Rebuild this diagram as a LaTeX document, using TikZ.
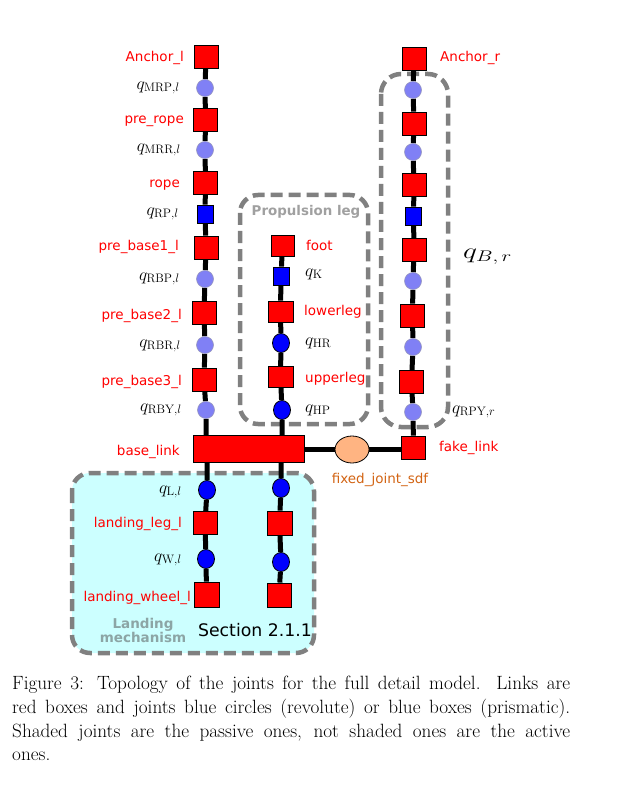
\RequirePackage{fix-cm}
\documentclass[tikz,border=0pt]{standalone}
\usepackage{fontspec}
\newfontfamily\dejavu{DejaVu Sans}
\usetikzlibrary{shapes.geometric,backgrounds}
\definecolor{jlight}{RGB}{128,128,245}
\definecolor{jlightb}{RGB}{150,150,190}
\definecolor{dashgray}{RGB}{128,128,128}
\definecolor{cyanbg}{RGB}{204,255,255}
\definecolor{sdforange}{RGB}{210,100,20}
\definecolor{sdffill}{RGB}{255,180,130}
\definecolor{titlegray}{RGB}{160,160,160}
\definecolor{landgray}{RGB}{140,165,165}
\tikzset{
  linkbox/.style={rectangle, fill=red, draw=black, line width=0.8pt, minimum width=24pt, minimum height=23pt, inner sep=0pt},
  pjoint/.style={circle, fill=jlight, draw=jlightb, line width=0.6pt, minimum size=17pt, inner sep=0pt},
  ajoint/.style={ellipse, fill=blue, draw=black, line width=0.8pt, minimum width=17pt, minimum height=19pt, inner sep=0pt},
  prism/.style={rectangle, fill=blue, draw=black, line width=0.8pt, minimum width=16pt, minimum height=18pt, inner sep=0pt},
  rlab/.style={text=red, font=\dejavu\fontsize{13.5}{16}\selectfont, inner sep=0pt, text height=10pt, text depth=0pt},
  mlab/.style={font=\fontsize{17.5}{20}\selectfont, inner sep=0pt},
  chain/.style={line width=5pt, black},
  groupbox/.style={draw=dashgray, line width=4.5pt, dash pattern=on 12pt off 6pt, rounded corners=18pt},
}
\begin{document}
\begin{tikzpicture}[x=1pt,y=-1pt]
\useasboundingbox (0,0) rectangle (620,786);
% ---------- left chain ----------
\node[linkbox] (anl) at (206,56.5) {};
\node[pjoint]  (qmrp) at (205,88) {};
\node[linkbox] (prerope) at (205.5,120) {};
\node[pjoint]  (qmrr) at (205,150) {};
\node[linkbox] (rope) at (205.5,183) {};
\node[prism]   (qrp) at (205,214) {};
\node[linkbox] (pb1) at (206,247.5) {};
\node[pjoint]  (qrbp) at (205,279) {};
\node[linkbox] (pb2) at (204,313) {};
\node[pjoint]  (qrbr) at (205,345) {};
\node[linkbox] (pb3) at (204,379.5) {};
\node[pjoint]  (qrby) at (206,410) {};
\node[linkbox, minimum width=111pt, minimum height=27pt] (base) at (248.5,448.5) {};
% labels left
\node[rlab, anchor=east] (lanl) at (184,57) {Anchor\_l};
\node[mlab, anchor=east] (lqmrp) at (180,88) {$q_{\mathrm{MRP},l}$};
\node[rlab, anchor=east] (lprerope) at (184,119) {pre\_rope};
\node[mlab, anchor=east] (lqmrr) at (181,150) {$q_{\mathrm{MRR},l}$};
\node[rlab, anchor=east] (lrope) at (180,183) {rope};
\node[mlab, anchor=east] (lqrp) at (179,214) {$q_{\mathrm{RP},l}$};
\node[rlab, anchor=east] (lpb1) at (179,246) {pre\_base1\_l};
\node[mlab, anchor=east] (lqrbp) at (180,279) {$q_{\mathrm{RBP},l}$};
\node[rlab, anchor=east] (lpb2) at (182,314) {pre\_base2\_l};
\node[mlab, anchor=east] (lqrbr) at (181,346) {$q_{\mathrm{RBR},l}$};
\node[rlab, anchor=east] (lpb3) at (182,380) {pre\_base3\_l};
\node[mlab, anchor=east] (lqrby) at (182,410) {$q_{\mathrm{RBY},l}$};
\node[rlab, anchor=east] (lbase) at (180,450) {base\_link};
% ---------- propulsion leg ----------
\node[linkbox, minimum width=23pt, minimum height=21pt] (foot) at (282.5,245.5) {};
\node[prism]   (qk) at (281,276) {};
\node[linkbox, minimum width=25pt, minimum height=21pt] (lower) at (280.5,311.5) {};
\node[ajoint]  (qhr) at (281,343) {};
\node[linkbox, minimum width=25pt, minimum height=21pt] (upper) at (280.5,377) {};
\node[ajoint]  (qhp) at (282,410) {};
\node[rlab, anchor=west] (lfoot) at (306,245) {foot};
\node[mlab, anchor=west] (lqk) at (305,274) {$q_{\mathrm{K}}$};
\node[rlab, anchor=west] (llower) at (304,310) {lowerleg};
\node[mlab, anchor=west] (lqhr) at (305,343) {$q_{\mathrm{HR}}$};
\node[rlab, anchor=west] (lupper) at (305,377) {upperleg};
\node[mlab, anchor=west] (lqhp) at (305,410) {$q_{\mathrm{HP}}$};
% ---------- right chain ----------
\node[linkbox] (anr) at (414,59) {};
\node[pjoint]  (r1) at (413,90) {};
\node[linkbox] (r2) at (414,123.5) {};
\node[pjoint]  (r3) at (413,152) {};
\node[linkbox] (r4) at (414,185) {};
\node[prism]   (r5) at (413.5,216) {};
\node[linkbox] (r6) at (414,250) {};
\node[pjoint]  (r7) at (413,281) {};
\node[linkbox] (r8) at (412.5,315.5) {};
\node[pjoint]  (r9) at (413,347) {};
\node[linkbox] (r10) at (411.5,382) {};
\node[pjoint]  (r11) at (413,412) {};
\node[linkbox] (fake) at (413.5,447.5) {};
\node[rlab, anchor=west] (lanr) at (440,57) {Anchor\_r};
\node[rlab, anchor=west] (lfake) at (439,446) {fake\_link};
\node[mlab, anchor=west] (lqrpy) at (452,412) {$q_{\mathrm{RPY},r}$};
\node[font=\fontsize{22}{26}\selectfont, inner sep=0pt, anchor=west] (lqb) at (463,257) {\scalebox{1.35}[1]{$q_{B,\,r}$}};
% ---------- fixed joint ----------
\node[ellipse, fill=sdffill, draw=black, line width=0.8pt, minimum width=34pt, minimum height=27pt, inner sep=0pt] (sdf) at (352,449.5) {};
\node[text=sdforange, font=\dejavu\fontsize{13.5}{16}\selectfont, inner sep=0pt, text height=10pt, text depth=0pt] (lsdf) at (380,478) {fixed\_joint\_sdf};
% ---------- landing ----------
\node[ajoint]  (qll) at (207,490) {};
\node[linkbox] (legl) at (205,523) {};
\node[ajoint]  (qwl) at (206,559) {};
\node[linkbox, minimum width=25pt, minimum height=25pt] (wheell) at (206.5,594.5) {};
\node[ajoint]  (qlr) at (281,488) {};
\node[linkbox, minimum width=25pt, minimum height=24pt] (legr) at (279.5,523) {};
\node[ajoint]  (qwr) at (281,562) {};
\node[linkbox, minimum width=24pt, minimum height=24pt] (wheelr) at (279,595) {};
\node[mlab, anchor=east] (lqll) at (182,492) {$q_{\mathrm{L},l}$};
\node[rlab, anchor=east] (llegl) at (182,522) {landing\_leg\_l};
\node[mlab, anchor=east] (lqwl) at (182,560) {$q_{\mathrm{W},l}$};
\node[rlab, anchor=east] (lwheell) at (191,596) {landing\_wheel\_l};
\node[text=landgray, font=\dejavu\bfseries\fontsize{13.5}{14}\selectfont, align=center, inner sep=0pt] (lland) at (143,630) {Landing\\mechanism};
\node[font=\dejavu\fontsize{17.3}{20}\selectfont, inner sep=0pt] (lsec) at (255,630) {Section 2.1.1};
\node[text=titlegray, font=\dejavu\bfseries\fontsize{13.4}{16}\selectfont, inner sep=0pt] (lprop) at (306,212) {Propulsion leg};
% ---------- caption ----------
\node[anchor=north west, text width=558pt, align=justify, inner sep=0pt, font=\fontsize{19.2}{23.7}\selectfont] (cap) at (12,676)
{Figure 3: Topology of the joints for the full detail model. Links are\linebreak red boxes and joints blue circles (revolute) or blue boxes (prismatic).\linebreak Shaded joints are the passive ones, not shaded ones are the active\linebreak ones.};
% ---------- background: groups and connectors ----------
\begin{pgfonlayer}{background}
\fill[cyanbg, rounded corners=18pt] (72,473) rectangle (314,653);
\draw[groupbox] (72,473) rectangle (314,653);
\draw[groupbox] (240,195) rectangle (368,424);
\draw[groupbox, rounded corners=20pt] (381,74) rectangle (448,427);
\draw[chain] (anl.center) -- (qmrp) -- (prerope) -- (qmrr) -- (rope) -- (qrp) -- (pb1) -- (qrbp) -- (pb2) -- (qrbr) -- (pb3) -- (qrby) -- (qrby.center |- base.center);
\draw[chain] (foot.center) -- (qk) -- (lower) -- (qhr) -- (upper) -- (qhp) -- (qhp.center |- base.center);
\draw[chain] (anr.center) -- (r1) -- (r2) -- (r3) -- (r4) -- (r5) -- (r6) -- (r7) -- (r8) -- (r9) -- (r10) -- (r11) -- (fake);
\draw[chain] (base.center |- sdf.center) -- (sdf.center) -- (sdf.center -| fake.center);
\draw[chain] (qll.center |- base.center) -- (qll) -- (legl) -- (qwl) -- (wheell);
\draw[chain] (qlr.center |- base.center) -- (qlr) -- (legr) -- (qwr) -- (wheelr);
\end{pgfonlayer}
\end{tikzpicture}
\end{document}
